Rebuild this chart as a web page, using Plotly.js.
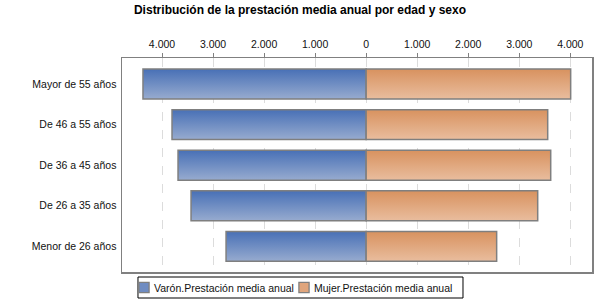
<!DOCTYPE html>
<html>
<head>
<meta charset="utf-8">
<script src="https://cdn.plot.ly/plotly-3.0.1.min.js"></script>
<style>
  body { margin: 0; background: #fff; }
  #chart { width: 600px; height: 300px; }
</style>
</head>
<body>
<div id="chart"></div>
<script>
// age groups, top to bottom as in the chart
const ageGroups = ['Mayor de 55 años', 'De 46 a 55 años', 'De 36 a 45 años', 'De 26 a 35 años', 'Menor de 26 años'];

// average yearly benefit per group
const varonValues = [4373, 3804, 3686, 3431, 2745];
const mujerValues = [4007, 3557, 3616, 3361, 2557];

const seriesNames = ['Varón.Prestación media anual', 'Mujer.Prestación media anual'];

// top axis shows absolute values on both sides
const tickVals = [-4000, -3000, -2000, -1000, 0, 1000, 2000, 3000, 4000];
const tickText = ['4.000', '3.000', '2.000', '1.000', '0', '1.000', '2.000', '3.000', '4.000'];

/**
 * Build the pyramid and paint the bars with a vertical gradient.
 */
function drawChart() {
    const font = 'Liberation Sans, Arial, sans-serif';
    const outline = { color: '#7f7f7f', width: 1.5 };

    const varon = {
        y: ageGroups,
        x: varonValues.map(v => -v),
        type: 'bar',
        orientation: 'h',
        name: seriesNames[0],
        marker: { color: '#6f8cc2', line: outline },
        hoverinfo: 'skip'
    };

    const mujer = {
        y: ageGroups,
        x: mujerValues,
        type: 'bar',
        orientation: 'h',
        name: seriesNames[1],
        marker: { color: '#e0a57c', line: outline },
        hoverinfo: 'skip'
    };

    const layout = {
        width: 600,
        height: 300,
        margin: { l: 122, r: 8, t: 58, b: 28 },
        paper_bgcolor: '#fff',
        plot_bgcolor: '#fff',
        font: { family: font, size: 10.5, color: '#111' },
        barmode: 'relative',
        bargap: 0.264,
        title: {
            text: 'Distribución de la prestación media anual por edad y sexo',
            font: { family: font, size: 12, color: '#000', weight: 'bold' },
            xref: 'container', x: 0.5, xanchor: 'center',
            yref: 'container', y: 0.967, yanchor: 'middle'
        },
        xaxis: {
            side: 'top',
            range: [-4784, 4425],
            tickvals: tickVals,
            ticktext: tickText,
            ticks: 'outside',
            ticklen: 4,
            tickcolor: '#808080',
            showgrid: true,
            gridcolor: '#dcdcdc',
            griddash: 'dash',
            gridwidth: 1,
            zeroline: false,
            showline: true,
            mirror: true,
            linecolor: '#808080',
            linewidth: 1.5,
            fixedrange: true
        },
        yaxis: {
            range: [4.63, -0.64],
            ticks: '',
            showgrid: false,
            zeroline: false,
            showline: true,
            mirror: true,
            linecolor: '#808080',
            linewidth: 1.5,
            ticklabelstandoff: 2,
            fixedrange: true
        },
        showlegend: true,
        legend: {
            orientation: 'h',
            xref: 'container', x: 114 / 600, xanchor: 'left',
            yref: 'container', y: 0.09, yanchor: 'top',
            borderwidth: 0,
            bgcolor: 'rgba(0,0,0,0)',
            font: { family: font, size: 10.5, color: '#111' },
            entrywidth: 115,
            entrywidthmode: 'pixels'
        },
        // legend frame, drawn tighter than plotly's own box
        shapes: [{
            type: 'rect',
            xref: 'paper', yref: 'paper',
            x0: 0.034, x1: 0.7255,
            y0: -0.1215, y1: -0.0234,
            line: { color: '#000', width: 1 },
            fillcolor: 'rgba(0,0,0,0)'
        }]
    };

    Plotly.newPlot('chart', [varon, mujer], layout, { staticPlot: true }).then(addGradients);
}

/**
 * Swap the flat bar fills for top-to-bottom gradients, tidy the legend.
 */
function addGradients() {
    const svg = document.querySelector('#chart .main-svg');
    const ns = 'http://www.w3.org/2000/svg';
    let defs = svg.querySelector('defs');
    if (!defs) {
        defs = document.createElementNS(ns, 'defs');
        svg.insertBefore(defs, svg.firstChild);
    }

    const grads = [
        { id: 'gradVaron', top: '#4870b6', bottom: '#97abcf' },
        { id: 'gradMujer', top: '#d8925f', bottom: '#e9bd9e' }
    ];

    grads.forEach(g => {
        const lg = document.createElementNS(ns, 'linearGradient');
        lg.setAttribute('id', g.id);
        lg.setAttribute('x1', '0'); lg.setAttribute('y1', '0');
        lg.setAttribute('x2', '0'); lg.setAttribute('y2', '1');
        const s1 = document.createElementNS(ns, 'stop');
        s1.setAttribute('offset', '0');
        s1.setAttribute('stop-color', g.top);
        const s2 = document.createElementNS(ns, 'stop');
        s2.setAttribute('offset', '1');
        s2.setAttribute('stop-color', g.bottom);
        lg.appendChild(s1);
        lg.appendChild(s2);
        defs.appendChild(lg);
    });

    //bars of each trace get their own gradient
    const traces = document.querySelectorAll('#chart .barlayer .trace');
    traces.forEach((tr, i) => {
        tr.querySelectorAll('path').forEach(p => {
            p.style.fill = 'url(#' + grads[i].id + ')';
        });
    });

    //the fixed entry width would cut the last label, so drop the clip
    document.querySelectorAll('#chart .legend .scrollbox').forEach(g => {
        g.removeAttribute('clip-path');
        g.style.clipPath = 'none';
    });

    //move the swatches closer to their text
    document.querySelectorAll('#chart .legend .legendsymbols').forEach(g => {
        g.setAttribute('transform', 'translate(13,0) scale(0.85)');
    });
}

drawChart();
</script>
</body>
</html>
